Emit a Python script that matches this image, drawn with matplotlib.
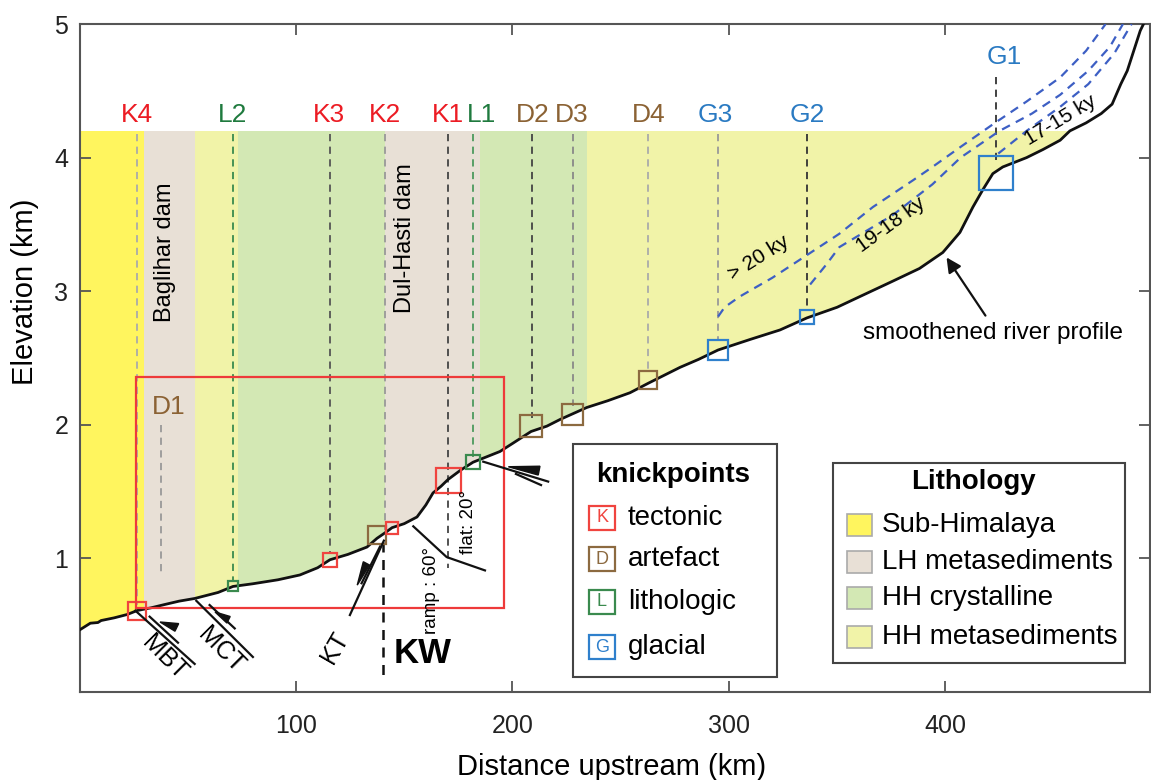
import numpy as np
import matplotlib.pyplot as plt
from matplotlib.patches import Rectangle, Polygon

plt.rcParams['font.family'] = ['Liberation Sans', 'DejaVu Sans']

# smoothed river profile, distance upstream (km) vs elevation (km)
profile_x = [0, 5, 8.5, 10, 16, 22, 26.7, 33, 39.4, 46, 53.2, 58, 64, 70.9, 80, 91.7,
             101.8, 110, 115.7, 124, 132.8, 137.4, 141, 144.4, 150, 155.9, 160, 163.3,
             167, 170.2, 176, 181.8, 188, 194.2, 200, 208.6, 215.9, 222, 227.5, 234.4,
             244, 254.3, 262.6, 270, 277.4, 286, 295, 310, 323.6, 336, 350, 360.5, 375,
             388, 398.8, 406.7, 412.7, 417.3, 421.9, 426.5, 437.5, 445, 453, 457.5, 465,
             472, 477, 481, 484, 487, 490, 491.5]
profile_y = [0.464, 0.515, 0.52, 0.535, 0.555, 0.58, 0.61, 0.63, 0.655, 0.68, 0.70, 0.72,
             0.745, 0.79, 0.81, 0.84, 0.876, 0.93, 0.99, 1.03, 1.085, 1.15, 1.19, 1.23,
             1.26, 1.31, 1.40, 1.49, 1.54, 1.59, 1.66, 1.72, 1.76, 1.80, 1.86, 1.95, 1.99,
             2.04, 2.08, 2.13, 2.18, 2.24, 2.31, 2.37, 2.43, 2.49, 2.56, 2.64, 2.71, 2.80,
             2.88, 2.96, 3.07, 3.17, 3.29, 3.44, 3.63, 3.76, 3.88, 3.93, 4.00, 4.06, 4.13,
             4.20, 4.26, 4.33, 4.40, 4.55, 4.65, 4.80, 4.95, 5.0]

# lithology bands (km)
band_edges = [0, 29.8, 53.3, 73.2, 141.1, 184.9, 234.4, 457.5]
band_units = ['Sub-Himalaya', 'LH metasediments', 'HH metasediments', 'HH crystalline',
              'LH metasediments', 'HH crystalline', 'HH metasediments']
band_top = 4.2
units = ['Sub-Himalaya', 'LH metasediments', 'HH crystalline', 'HH metasediments']
unit_colors = {'Sub-Himalaya': '#fff55e', 'LH metasediments': '#e8e0d6',
               'HH crystalline': '#d3e8b4', 'HH metasediments': '#f1f3a8'}

# knickpoints
knick_x = [26.7, 70.9, 115.7, 137.4, 144.4, 170.2, 181.8, 208.6, 227.5, 262.6, 295.0, 336.0, 423.3]
knick_y = [0.61, 0.79, 0.99, 1.175, 1.23, 1.59, 1.72, 1.99, 2.08, 2.335, 2.56, 2.81, 3.885]
knick_type = ['K', 'L', 'K', 'D', 'K', 'K', 'L', 'D', 'D', 'D', 'G', 'G', 'G']
knick_size = [18, 10, 14, 18, 12, 25, 14, 22, 21, 18, 20, 14, 34]  # px

kind_names = {'K': 'tectonic', 'D': 'artefact', 'L': 'lithologic', 'G': 'glacial'}
box_colors = {'K': '#f0443f', 'D': '#8c6a40', 'L': '#3a8a4e', 'G': '#2f80cc'}
text_colors = {'K': '#ec1c24', 'D': '#8b6234', 'L': '#1f7a3e', 'G': '#2a7ac2'}

# labels above bands + dashed guides
label_names = ['K4', 'L2', 'K3', 'K2', 'K1', 'L1', 'D2', 'D3', 'D4', 'G3', 'G2', 'G1']
label_x = [26.6, 70.9, 115.2, 141.0, 170.2, 185.6, 209.2, 227.5, 262.8, 293.8, 336.0, 427.0]
guide_x = [26.6, 71.0, 115.5, 141.0, 170.2, 182.0, 208.8, 227.8, 262.6, 295.0, 336.0, 423.3]
guide_bot = [0.65, 0.83, 1.05, 1.21, 0.93, 1.76, 2.05, 2.14, 2.40, 2.64, 2.85, 3.98]
guide_col = ['#aaaaaa', '#3a8a4e', '#555555', '#999999', '#444444', '#4c9a5e',
             '#444444', '#888888', '#aaaaaa', '#999999', '#333333', '#333333']

# glacial paleo-profiles
glacA_x = [295, 298, 305, 320, 336, 351, 366.5, 385, 394, 407, 422, 437.5, 453, 465, 474]
glacA_y = [2.81, 2.88, 2.96, 3.10, 3.27, 3.43, 3.63, 3.83, 3.93, 4.08, 4.25, 4.42, 4.60, 4.80, 5.0]
glacB_x = [337.5, 345, 351, 375.7, 394, 407, 425, 440, 453, 466, 476, 482]
glacB_y = [3.05, 3.20, 3.33, 3.57, 3.80, 4.00, 4.20, 4.33, 4.47, 4.65, 4.83, 5.0]
glacC_x = [424.4, 437.5, 453, 466, 478, 486]
glacC_y = [4.03, 4.20, 4.38, 4.55, 4.78, 5.0]

fig = plt.figure(figsize=(11.51, 7.80), dpi=100)
ax = fig.add_axes([79.5 / 1151, 88 / 780, (1150 - 79.5) / 1151, (692 - 24) / 780])
ax.set_xlim(0, 494.5)
ax.set_ylim(0, 5)

for x0, x1, u in zip(band_edges[:-1], band_edges[1:], band_units):
    ax.axvspan(x0, x1, ymin=0, ymax=band_top / 5, color=unit_colors[u], lw=0, zorder=0)
ax.fill_between(profile_x, 0, profile_y, color='white', lw=0, zorder=1)

for name, lx, gx, gb, gc in zip(label_names, label_x, guide_x, guide_bot, guide_col):
    top = 4.6 if name == 'G1' else 4.18
    ly = 4.75 if name == 'G1' else 4.32
    ax.plot([gx, gx], [top, gb], ls=(0, (4, 3)), color=gc, lw=1.3, zorder=2)
    ax.text(lx, ly, name, color=text_colors[name[0]], fontsize=19,
            ha='center', va='center', zorder=5)

# D1 and KW
ax.plot([37.5, 37.5], [2.0, 0.88], ls=(0, (4, 3)), color='#999999', lw=1.3, zorder=2)
ax.text(41, 2.13, 'D1', color=text_colors['D'], fontsize=19, ha='center', va='center', zorder=5)
ax.plot([140.4, 140.4], [1.12, 0.11], ls=(0, (4, 3)), color='#111111', lw=1.8, zorder=2)
ax.text(158.7, 0.29, 'KW', fontsize=25, fontweight='bold', ha='center', va='center', zorder=5)

ax.plot(profile_x, profile_y, color='#111111', lw=2, zorder=3)

for gx, gy in [(glacA_x, glacA_y), (glacB_x, glacB_y), (glacC_x, glacC_y)]:
    ax.plot(gx, gy, ls=(0, (4, 3)), color='#3d5fc4', lw=1.6, zorder=3)

for x, y, t, s in zip(knick_x, knick_y, knick_type, knick_size):
    ax.plot(x, y, 's', ms=s * 0.72, mfc='none', mec=box_colors[t], mew=1.6, zorder=4)

ax.add_patch(Rectangle((26.1, 0.63), 196 - 26.1, 2.36 - 0.63, fill=False,
                       ec='#ee3a3a', lw=1.6, zorder=4))

# faults
faults = [
    # long line, short line, wedge
    ([(25.8, 0.609), (53.2, 0.210)], [(32.4, 0.564), (45.5, 0.369)],
     [(37.2, 0.524), (44.1, 0.455), (45.8, 0.512)]),
    ([(53.95, 0.683), (80.1, 0.262)], [(60.1, 0.651), (71.7, 0.476)],
     [(62.6, 0.599), (68.1, 0.516), (69.6, 0.565)]),
    ([(124.9, 0.576), (140.6, 1.133)], [(130.3, 0.814), (138.8, 1.088)],
     [(128.3, 0.80), (131.1, 0.975), (134.0, 0.95)]),
    ([(186.5, 1.724), (216.5, 1.575)], [(201.6, 1.632), (213.2, 1.549)],
     [(198.1, 1.686), (212.7, 1.690), (211.9, 1.624)]),
]
for long_l, short_l, wedge in faults:
    ax.plot(*zip(*long_l), color='#111111', lw=1.6, zorder=4)
    ax.plot(*zip(*short_l), color='#111111', lw=1.6, zorder=4)
    ax.add_patch(Polygon(wedge, closed=True, color='#111111', zorder=4))
ax.plot([154.2, 169.6, 187.3], [1.24, 1.01, 0.91], color='#111111', lw=1.6, zorder=4)

ax.text(39.3, 0.26, 'MBT', fontsize=18, rotation=-45, ha='center', va='center', zorder=5)
ax.text(65.5, 0.31, 'MCT', fontsize=18, rotation=-45, ha='center', va='center', zorder=5)
ax.text(118, 0.33, 'KT', fontsize=18, rotation=60, ha='center', va='center', zorder=5)
ax.text(162.4, 0.76, 'ramp : 60°', fontsize=13.5, rotation=90, ha='center', va='center', zorder=5)
ax.text(179.5, 1.27, 'flat: 20°', fontsize=13.5, rotation=90, ha='center', va='center', zorder=5)
ax.text(39.5, 3.29, 'Baglihar dam', fontsize=17, rotation=90, ha='center', va='center', zorder=5)
ax.text(150.3, 3.40, 'Dul-Hasti dam', fontsize=17, rotation=90, ha='center', va='center', zorder=5)

ax.text(313.6, 3.25, '> 20 ky', fontsize=15, rotation=32, ha='center', va='center', zorder=5)
ax.text(375, 3.50, '19-18 ky', fontsize=15, rotation=36, ha='center', va='center', zorder=5)
ax.text(453, 4.28, '17-15 ky', fontsize=15, rotation=31, ha='center', va='center', zorder=5)

ax.annotate('', xy=(399.8, 3.27), xytext=(419.2, 2.80),
            arrowprops=dict(arrowstyle='-|>', color='#111111', lw=1.6, mutation_scale=22),
            zorder=5)
ax.text(421.9, 2.69, 'smoothened river profile', fontsize=17.5, ha='center', va='center', zorder=5)

# legends drawn in axes fraction
def fx(px):
    return (px - 79.5) / (1150 - 79.5)

def fy(py):
    return (692 - py) / (692 - 24)

T = ax.transAxes
ax.add_patch(Rectangle((fx(573), fy(677)), fx(777) - fx(573), fy(444) - fy(677),
                       transform=T, fc='white', ec='#444444', lw=1.5, zorder=6))
ax.text(fx(673), fy(475), 'knickpoints', transform=T, fontsize=20, fontweight='bold',
        ha='center', va='center', zorder=7)
for k, row in zip(['K', 'D', 'L', 'G'], [518, 559, 602, 647]):
    ax.add_patch(Rectangle((fx(589), fy(row + 12)), fx(615) - fx(589), fy(row - 12) - fy(row + 12),
                           transform=T, fc='white', ec=box_colors[k], lw=1.6, zorder=7))
    ax.text(fx(602), fy(row), k, transform=T, color=box_colors[k], fontsize=13,
            ha='center', va='center', zorder=8)
    ax.text(fx(628), fy(row), kind_names[k], transform=T, fontsize=20,
            ha='left', va='center', zorder=7)

ax.add_patch(Rectangle((fx(833), fy(663)), fx(1125) - fx(833), fy(463) - fy(663),
                       transform=T, fc='white', ec='#444444', lw=1.5, zorder=6))
ax.text(fx(973), fy(482), 'Lithology', transform=T, fontsize=20, fontweight='bold',
        ha='center', va='center', zorder=7)
for u, row in zip(units, [525, 562, 598, 637]):
    ax.add_patch(Rectangle((fx(847), fy(row + 11)), fx(872) - fx(847), fy(row - 11) - fy(row + 11),
                           transform=T, fc=unit_colors[u], ec='#aaaaaa', lw=1.2, zorder=7))
    ax.text(fx(882), fy(row), u, transform=T, fontsize=20, ha='left', va='center', zorder=7)

ax.set_xticks([100, 200, 300, 400])
ax.set_yticks([1, 2, 3, 4, 5])
ax.tick_params(direction='in', length=8, width=1.3, color='#555555', top=True, right=True,
               labelsize=18, labelcolor='#222222', pad=8)
ax.tick_params(axis='x', pad=16)
for sp in ax.spines.values():
    sp.set_color('#555555')
    sp.set_linewidth(1.5)

fig.text(25 / 1151, 1 - 292 / 780, 'Elevation (km)', rotation=90, fontsize=21,
         ha='center', va='center')
fig.text(612 / 1151, 1 - 767 / 780, 'Distance upstream (km)', fontsize=21,
         ha='center', va='center')

fig.savefig('out.png', dpi=100)
